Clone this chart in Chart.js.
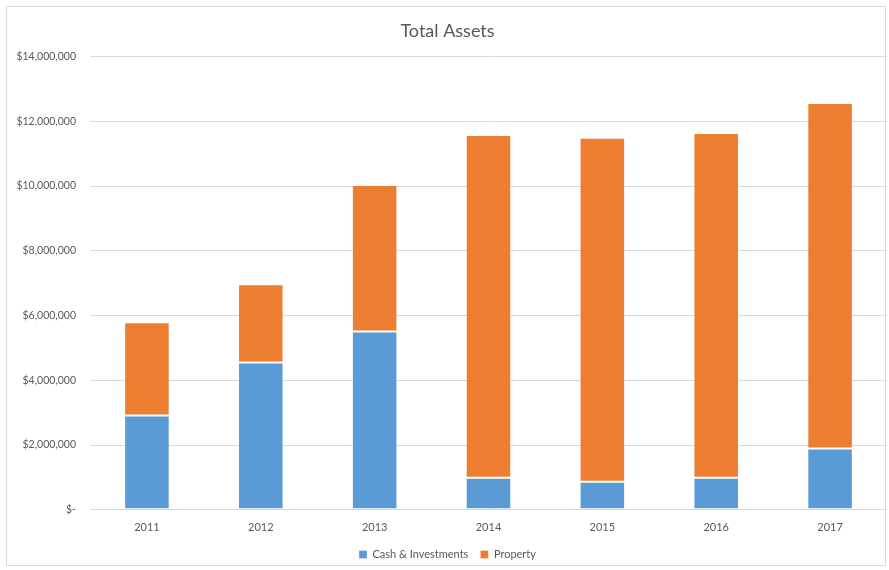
<!DOCTYPE html>
<html>
<head>
<meta charset="utf-8">
<script src="https://cdn.jsdelivr.net/npm/chart.js@4"></script>
<style>
  html, body { margin: 0; padding: 0; background: #fff; }
  #wrap { position: absolute; left: 6px; top: 6px; width: 880px; height: 560px; border: 1px solid #d9d9d9; box-sizing: border-box; }
  #chart { position: absolute; left: 0; top: 0; }
</style>
</head>
<body>
<div id="wrap"></div>
<canvas id="chart" width="889" height="570"></canvas>
<script>
// years on the x axis
const years = ['2011', '2012', '2013', '2014', '2015', '2016', '2017'];
// values (dollars)
const cashInvestments = [2910000, 4550000, 5510000, 990000, 870000, 990000, 1890000];
const property = [2880000, 2420000, 4520000, 10590000, 10620000, 10650000, 10680000];
const tickValues = [0, 2000000, 4000000, 6000000, 8000000, 10000000, 12000000, 14000000];

const grey = '#595959';
const font = "Lato, 'Open Sans', sans-serif";

function money(v) {
    if (v === 0) return '$-';
    return '$' + v.toLocaleString('en-US');
}

const ctx = document.getElementById('chart').getContext('2d');
new Chart(ctx, {
    type: 'bar',
    data: {
        labels: years,
        datasets: [
            {
                label: 'Cash & Investments',
                data: cashInvestments,
                backgroundColor: '#5b9bd5',
                borderColor: 'rgba(255,255,255,0.3)',
                borderWidth: 1,
                borderSkipped: false,
                barPercentage: 0.4,
                categoryPercentage: 1.0
            },
            {
                label: 'Property',
                data: property,
                backgroundColor: '#ed7d31',
                borderColor: 'rgba(255,255,255,0.3)',
                borderWidth: 1,
                borderSkipped: false,
                barPercentage: 0.4,
                categoryPercentage: 1.0
            }
        ]
    },
    options: {
        responsive: false,
        animation: false,
        layout: {
            padding: { left: 8, right: 2, top: 20, bottom: 0 }
        },
        plugins: {
            title: {
                display: true,
                text: 'Total Assets',
                color: grey,
                font: { family: font, size: 18, weight: 'normal' },
                padding: { top: 0, bottom: 15 }
            },
            legend: {
                position: 'bottom',
                labels: {
                    color: grey,
                    font: { family: font, size: 11 },
                    boxWidth: 8,
                    boxHeight: 8,
                    padding: 12
                }
            },
            tooltip: { enabled: false }
        },
        scales: {
            x: {
                stacked: true,
                grid: { display: false },
                border: { display: false },
                ticks: {
                    color: grey,
                    font: { family: font, size: 11 },
                    padding: 3
                }
            },
            y: {
                stacked: true,
                min: 0,
                max: 14000000,
                afterBuildTicks: function(scale) {
                    scale.ticks = tickValues.map(v => ({ value: v }));
                },
                afterFit: function(scale) {
                    scale.width = 82;
                },
                grid: { color: '#d9d9d9', drawTicks: false },
                border: { display: false },
                ticks: {
                    color: grey,
                    font: { family: font, size: 10.5 },
                    padding: 14,
                    callback: function(value) { return money(value); }
                }
            }
        }
    }
});
</script>
</body>
</html>
